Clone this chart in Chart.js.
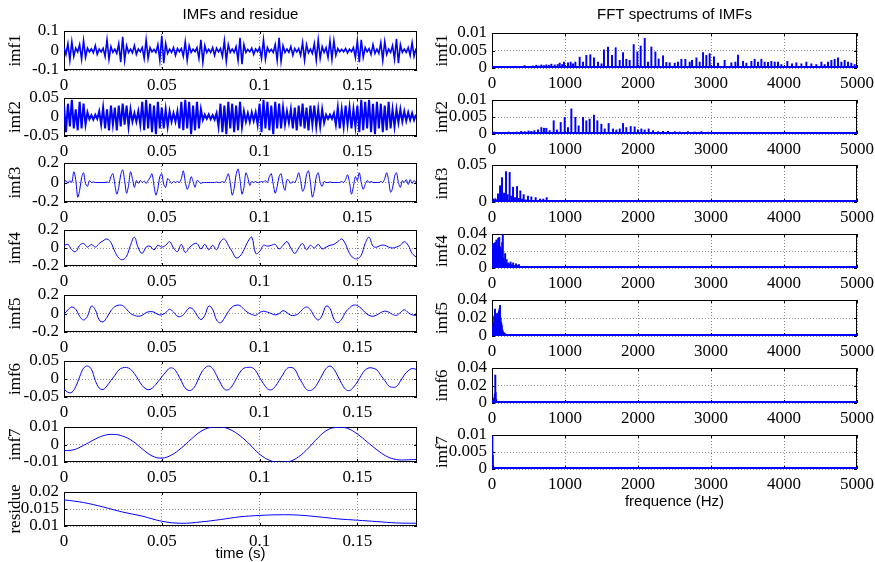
<!DOCTYPE html>
<html>
<head>
<meta charset="utf-8">
<script src="https://cdn.jsdelivr.net/npm/chart.js@4.4.1/dist/chart.umd.min.js"></script>
<style>
  html, body { margin: 0; padding: 0; background: #fff; overflow: hidden; }
  #page { position: relative; width: 875px; height: 562px; }
  #page canvas { position: absolute; }
</style>
</head>
<body>
<div id="page"></div>
<script>
// axis ticks
const timeTicks = [0, 0.05, 0.1, 0.15];
const timeMax = 0.1805;
const freqTicks = [0, 1000, 2000, 3000, 4000, 5000];

const imf1 = [
  0.015, -0.02, 0.035, -0.05, 0.045, -0.03, 0.012, -0.008, 0.03, -0.045,
  0.05, -0.035, 0.012, -0.007, 0.008, -0.012, 0.025, -0.02, 0.008, -0.007,
  0.012, -0.03, 0.055, -0.045, 0.02, -0.01, 0.007, -0.015, 0.035, -0.06,
  0.07, -0.05, 0.025, -0.01, 0.007, -0.012, 0.025, -0.02, 0.008, -0.006,
  0.015, -0.04, 0.055, -0.04, 0.015, -0.007, 0.006, -0.01, 0.03, -0.05,
  0.075, -0.065, 0.035, -0.015, 0.007, -0.01, 0.015, -0.025, 0.01, -0.006,
  0.01, -0.03, 0.045, -0.05, 0.025, -0.01, 0.007, -0.006, 0.015, -0.04,
  0.055, -0.06, 0.025, -0.01, 0.006, -0.01, 0.015, -0.025, 0.012, -0.007,
  0.01, -0.03, 0.05, -0.055, 0.03, -0.01, 0.007, -0.01, 0.02, -0.05,
  0.065, -0.07, 0.03, -0.01, 0.006, -0.007, 0.012, -0.02, 0.008, -0.006,
  0.015, -0.04, 0.055, -0.045, 0.015, -0.007, 0.006, -0.01, 0.03, -0.05,
  0.065, -0.055, 0.025, -0.01, 0.007, -0.01, 0.02, -0.025, 0.01, -0.007,
  0.01, -0.025, 0.04, -0.05, 0.03, -0.012, 0.007, -0.015, 0.035, -0.05,
  0.055, -0.04, 0.02, -0.01, 0.015, -0.035, 0.05, -0.045, 0.05, -0.025,
  0.01, -0.007, 0.006, -0.007, 0.01, -0.012, 0.007, -0.006, 0.015, -0.035,
  0.05, -0.06, 0.055, -0.035, 0.015, -0.007, 0.01, -0.02, 0.03, -0.015,
  0.007, -0.015, 0.04, -0.05, 0.045, -0.02, 0.007, -0.01, 0.025, -0.045,
  0.06, -0.065, 0.03, -0.01, 0.007, -0.01, 0.015, -0.025, 0.04, -0.03,
  0.01
];
const imf2 = [
  0.03, -0.04, 0.035, -0.025, 0.045, -0.03, 0.02, -0.035, 0.04, -0.03,
  0.035, -0.02, 0.012, -0.006, 0.005, -0.007, 0.006, -0.005, 0.015, -0.02,
  0.025, -0.03, 0.02, -0.035, 0.03, -0.02, 0.025, -0.035, 0.03, -0.025,
  0.035, -0.02, 0.03, -0.025, 0.02, -0.012, 0.01, -0.012, 0.015, -0.02,
  0.04, -0.035, 0.045, -0.03, 0.035, -0.04, 0.03, -0.045, 0.04, -0.03,
  0.025, -0.03, 0.02, -0.025, 0.015, -0.012, 0.01, -0.012, 0.015, -0.03,
  0.04, -0.035, 0.045, -0.03, 0.04, -0.045, 0.03, -0.035, 0.04, -0.03,
  0.02, -0.008, 0.006, -0.005, 0.007, -0.006, 0.005, -0.007, 0.01, -0.025,
  0.035, -0.04, 0.03, -0.045, 0.04, -0.03, 0.035, -0.04, 0.03, -0.035,
  0.04, -0.025, 0.015, -0.012, 0.01, -0.013, 0.012, -0.01, 0.012, -0.02,
  0.035, -0.04, 0.045, -0.03, 0.04, -0.035, 0.03, -0.045, 0.04, -0.03,
  0.035, -0.03, 0.025, -0.02, 0.015, -0.015, 0.02, -0.03, 0.025, -0.035,
  0.03, -0.025, 0.035, -0.03, 0.025, -0.035, 0.03, -0.02, 0.03, -0.025,
  0.02, -0.025, 0.02, -0.015, 0.006, -0.005, 0.006, -0.005, 0.01, -0.02,
  0.025, -0.03, 0.02, -0.025, 0.03, -0.02, 0.025, -0.03, 0.02, -0.025,
  0.03, -0.04, 0.045, -0.035, 0.04, -0.03, 0.045, -0.04, 0.035, -0.045,
  0.04, -0.03, 0.035, -0.04, 0.03, -0.035, 0.04, -0.03, 0.02, -0.025,
  0.02, -0.015, 0.02, -0.012, 0.015, -0.01, 0.012, -0.008, 0.01, -0.008,
  0.006
];
const imf3 = [
  0.0, 0.02, -0.01, 0.02, 0.0, 0.11, 0.03, -0.15, -0.08, 0.05,
  0.10, -0.01, -0.04, 0.02, 0.0, 0.005, 0.0, 0.0, 0.0, 0.0,
  0.0, 0.0, 0.005, 0.0, 0.06, 0.09, -0.02, -0.12, -0.05, 0.08,
  0.13, 0.02, -0.11, -0.03, 0.11, 0.04, -0.05, 0.02, -0.01, 0.02,
  0.0, 0.015, -0.01, 0.02, 0.05, 0.09, -0.03, -0.13, -0.06, 0.06,
  0.09, -0.02, -0.05, 0.04, 0.02, -0.01, 0.01, 0.0, 0.01, 0.0,
  0.04, 0.12, 0.01, -0.07, -0.02, 0.06, 0.01, -0.05, 0.02, 0.01,
  -0.01, 0.0, 0.0, 0.0, 0.0, 0.0, 0.0, 0.0, 0.005, 0.0,
  0.0, 0.01, 0.0, 0.04, 0.09, 0.0, -0.13, -0.06, 0.08, 0.14,
  0.03, -0.12, -0.05, 0.1, 0.05, -0.03, 0.01, 0.0, 0.01, 0.0,
  0.0, 0.01, 0.005, 0.02, 0.0, 0.06, 0.09, -0.02, -0.11, -0.04,
  0.06, 0.09, -0.02, -0.08, 0.03, 0.02, -0.01, 0.01, 0.0, 0.04,
  0.1, 0.02, -0.09, -0.05, 0.08, 0.12, 0.0, -0.15, -0.08, 0.06,
  0.1, 0.0, -0.04, 0.01, 0.0, 0.0, 0.005, 0.0, 0.0, 0.0,
  0.0, 0.0, 0.01, 0.0, 0.03, 0.08, 0.0, -0.12, -0.04, 0.06,
  0.02, 0.1, 0.0, -0.07, -0.02, 0.02, 0.0, 0.01, 0.0, 0.0,
  0.0, 0.0, 0.01, 0.0, 0.04, 0.1, 0.02, -0.1, -0.06, 0.06,
  0.1, 0.0, -0.05, 0.02, 0.0, 0.03, -0.02, 0.03, -0.01, 0.02,
  0.0
];
const imf4 = [
  0.026, 0.04, -0.02, -0.04, 0.03, 0.05, 0.01, 0.04, 0.01, 0.05,
  0.08, 0.10, 0.06, -0.04, -0.11, -0.13, -0.09, 0.03, 0.12, 0.0,
  -0.06, 0.01, 0.02, -0.02, 0.03, 0.01, 0.03, 0.07, 0.0, -0.04,
  0.04, -0.05, 0.0, 0.04, 0.05, -0.01, 0.04, -0.02, 0.03, -0.02,
  0.07, 0.10, 0.03, -0.04, -0.11, -0.09, -0.02, 0.07, 0.12, -0.06,
  -0.04, 0.03, 0.02, 0.03, 0.04, -0.01, 0.03, 0.07, 0.0, -0.06,
  0.0, 0.05, -0.02, 0.03, 0.0, 0.04, -0.01, 0.01, 0.03, 0.04,
  0.07, 0.10, 0.04, -0.06, -0.11, -0.12, -0.08, 0.05, 0.12, 0.02,
  0.01, 0.03, 0.03, 0.01, 0.0, 0.01, 0.03, 0.07, 0.03, -0.06,
  -0.10
];
const imf5 = [
  -0.01, 0.04, 0.07, 0.045, -0.03, -0.07, -0.03, 0.08, 0.04, -0.07,
  -0.09, -0.04, 0.03, 0.075, 0.09, 0.085, 0.045, 0.0, -0.02, -0.03,
  -0.02, 0.01, 0.02, 0.015, -0.01, -0.015, 0.01, 0.045, 0.015, -0.03,
  -0.03, 0.01, 0.06, 0.045, -0.02, -0.065, -0.02, 0.08, 0.045, -0.07,
  -0.1, -0.05, 0.02, 0.07, 0.09, 0.085, 0.045, 0.01, -0.01, -0.02,
  0.01, 0.025, 0.015, 0.0, -0.015, 0.0, 0.03, 0.01, -0.02, -0.02,
  0.0, 0.045, 0.07, 0.04, -0.03, -0.07, -0.02, 0.08, 0.055, -0.06,
  -0.1, -0.06, 0.015, 0.06, 0.09, 0.085, 0.055, 0.01, -0.02, -0.03,
  -0.015, 0.01, 0.025, 0.015, -0.01, -0.02, 0.01, 0.04, 0.01, -0.015,
  -0.02
];
const imf6 = [
  -0.028, -0.037, -0.037, -0.021, 0.006, 0.03, 0.036, 0.027, -0.004, -0.025,
  -0.029, -0.019, -0.004, 0.01, 0.025, 0.031, 0.032, 0.027, 0.015, -0.002,
  -0.018, -0.028, -0.029, -0.021, -0.008, 0.006, 0.019, 0.03, 0.029, 0.015,
  -0.006, -0.025, -0.032, -0.027, -0.009, 0.015, 0.03, 0.036, 0.029, 0.01,
  -0.011, -0.028, -0.03, -0.019, 0.0, 0.019, 0.03, 0.032, 0.032, 0.023,
  0.004, -0.013, -0.027, -0.03, -0.021, -0.004, 0.013, 0.029, 0.032, 0.027,
  0.006, -0.013, -0.029, -0.032, -0.025, -0.009, 0.011, 0.029, 0.036, 0.027,
  0.008, -0.013, -0.029, -0.032, -0.023, -0.008, 0.01, 0.025, 0.031, 0.03,
  0.025, 0.01, -0.004, -0.019, -0.023, -0.021, -0.006, 0.011, 0.023, 0.029,
  0.027
];
const imf7 = [
  -0.0035, -0.003, -0.0005, 0.0025, 0.005, 0.0058, 0.0048, 0.002, -0.0025, -0.0065,
  -0.0078, -0.006, -0.002, 0.003, 0.0075, 0.0098, 0.0101, 0.0085, 0.005, 0.0,
  -0.0055, -0.009, -0.0102, -0.0098, -0.007, -0.002, 0.004, 0.0085, 0.0098, 0.0092,
  0.006, 0.0015, -0.003, -0.0068, -0.0086, -0.0088, -0.0085
];
const residue = [
  0.0177, 0.0169, 0.0156, 0.0141, 0.0129, 0.0114, 0.0108, 0.0112, 0.0119, 0.0127,
  0.0131, 0.0133, 0.0132, 0.0127, 0.0121, 0.0117, 0.0113, 0.0109, 0.0108
];

// FFT spectra: peak frequency (Hz) and amplitude
const fft1Freq = [36, 100, 173, 250, 334, 400, 447, 516, 560, 607, 640, 676, 710, 744, 780, 813, 859, 900, 927, 960,
  986, 1041, 1078, 1110, 1142, 1201, 1247, 1292, 1347, 1397, 1452, 1500, 1534, 1589, 1644, 1694, 1749, 1795, 1840, 1886,
  1941, 1991, 2037, 2092, 2137, 2183, 2238, 2283, 2343, 2388, 2434, 2503, 2548, 2594, 2649, 2708, 2740, 2800, 2845, 2891,
  2936, 2982, 3041, 3096, 3187, 3279, 3334, 3370, 3439, 3484, 3553, 3598, 3644, 3690, 3735, 3781, 3827, 3873, 3918, 3964,
  4046, 4110, 4169, 4238, 4306, 4375, 4443, 4512, 4557, 4603, 4649, 4694, 4740, 4786, 4831, 4877, 4922, 4968];
const fft1Amp = [0.0005, 0.0003, 0.0004, 0.0003, 0.0005, 0.0004, 0.0007, 0.0005, 0.0006, 0.0008, 0.0006, 0.0009, 0.0007, 0.0009, 0.0008, 0.0011, 0.0009, 0.001, 0.0014, 0.001,
  0.0017, 0.0015, 0.0017, 0.0012, 0.0017, 0.0031, 0.0017, 0.0036, 0.0038, 0.0029, 0.0017, 0.0012, 0.0052, 0.006, 0.0036, 0.0058, 0.0022, 0.0044, 0.0025, 0.0022,
  0.0067, 0.0046, 0.0063, 0.0085, 0.0017, 0.006, 0.0046, 0.0026, 0.0035, 0.0016, 0.0015, 0.0014, 0.0017, 0.0025, 0.0025, 0.0017, 0.0022, 0.0029, 0.0017, 0.0044,
  0.0036, 0.0041, 0.0032, 0.0014, 0.0022, 0.0015, 0.0017, 0.0037, 0.0019, 0.0014, 0.0019, 0.0025, 0.0017, 0.0025, 0.0017, 0.0016, 0.0019, 0.0017, 0.0017, 0.001,
  0.0019, 0.0012, 0.0015, 0.0012, 0.0017, 0.0012, 0.001, 0.0017, 0.001, 0.0017, 0.0022, 0.0025, 0.0029, 0.0017, 0.0022, 0.0017, 0.0014, 0.001];
const fft2Freq = [30, 80, 130, 180, 230, 290, 340, 400, 450, 500, 539, 580, 630, 676, 712, 744, 790, 845, 890, 941,
  996, 1041, 1087, 1142, 1187, 1247, 1292, 1338, 1397, 1443, 1498, 1544, 1598, 1658, 1703, 1750, 1795, 1840, 1900, 1954,
  2000, 2046, 2092, 2146, 2206, 2274, 2343, 2411, 2503, 2571, 2685, 2777, 2868, 2959, 3142];
const fft2Amp = [0.0006, 0.0004, 0.0005, 0.0004, 0.0006, 0.0005, 0.0006, 0.0008, 0.0007, 0.0009, 0.0008, 0.001, 0.0012, 0.0019, 0.0017, 0.0017, 0.001, 0.0039, 0.0012, 0.0034,
  0.0049, 0.0019, 0.0074, 0.0049, 0.0024, 0.0049, 0.0039, 0.0044, 0.0056, 0.0039, 0.0029, 0.0015, 0.0031, 0.0015, 0.0012, 0.0015, 0.0031, 0.0019, 0.0022, 0.0021,
  0.0012, 0.0015, 0.0012, 0.0015, 0.001, 0.0007, 0.0008, 0.0008, 0.0007, 0.0006, 0.0007, 0.0006, 0.0007, 0.0006, 0.0005];
const fft3Freq = [20, 45, 60, 82, 110, 137, 165, 192, 215, 242, 265, 288, 315, 343, 365, 388, 410, 434, 460, 493, 539, 598, 658, 703, 749, 849];
const fft3Amp = [0.004, 0.0045, 0.003, 0.011, 0.022, 0.033, 0.012, 0.041, 0.01, 0.04, 0.008, 0.02, 0.006, 0.021, 0.005, 0.015, 0.004, 0.01, 0.003, 0.008, 0.007, 0.006, 0.004, 0.004, 0.006, 0.002];
const fft4Freq = [5, 12, 20, 28, 36, 44, 52, 60, 68, 76, 84, 92, 100, 108, 116, 124, 132, 140, 148, 156,
  164, 172, 180, 190, 200, 212, 225, 240, 255, 270, 290, 310, 330, 350, 370, 390, 420];
const fft4Amp = [0.012, 0.028, 0.022, 0.029, 0.018, 0.03, 0.024, 0.033, 0.02, 0.026, 0.035, 0.022, 0.036, 0.018, 0.025, 0.015, 0.02, 0.03, 0.04, 0.012,
  0.008, 0.006, 0.017, 0.005, 0.01, 0.004, 0.006, 0.005, 0.007, 0.004, 0.006, 0.003, 0.005, 0.003, 0.004, 0.002, 0.002];
const fft5Freq = [10, 20, 30, 41, 50, 60, 70, 80, 90, 96, 103, 110, 118, 126, 134, 142, 150, 160, 175, 190, 210];
const fft5Amp = [0.01, 0.015, 0.022, 0.03, 0.024, 0.02, 0.025, 0.022, 0.026, 0.028, 0.03, 0.034, 0.02, 0.015, 0.012, 0.007, 0.005, 0.004, 0.003, 0.002, 0.0015];
const fft6Freq = [10, 20, 30, 38, 45, 50, 58, 70];
const fft6Amp = [0.003, 0.004, 0.006, 0.01, 0.032, 0.012, 0.004, 0.002];
const fft7Freq = [5, 11, 16];
const fft7Amp = [0.0095, 0.004, 0.001];
const fftFloorFreq = [0, 5000];
const fftFloorAmp = [0, 0];

const leftNames = ['imf1', 'imf2', 'imf3', 'imf4', 'imf5', 'imf6', 'imf7', 'residue'];
const leftSeries = [imf1, imf2, imf3, imf4, imf5, imf6, imf7, residue];
const leftStep = [0.001, 0.001, 0.001, 0.002, 0.002, 0.002, 0.005, 0.01];
const leftYTicks = [[-0.1, 0, 0.1], [-0.05, 0, 0.05], [-0.2, 0, 0.2], [-0.2, 0, 0.2],
  [-0.2, 0, 0.2], [-0.05, 0, 0.05], [-0.01, 0, 0.01], [0.01, 0.015, 0.02]];

const rightNames = ['imf1', 'imf2', 'imf3', 'imf4', 'imf5', 'imf6', 'imf7'];
const rightFreq = [fft1Freq, fft2Freq, fft3Freq, fft4Freq, fft5Freq, fft6Freq, fft7Freq];
const rightAmp = [fft1Amp, fft2Amp, fft3Amp, fft4Amp, fft5Amp, fft6Amp, fft7Amp];
const rightYTicks = [[0, 0.005, 0.01], [0, 0.005, 0.01], [0, 0.05], [0, 0.02, 0.04],
  [0, 0.02, 0.04], [0, 0.02, 0.04], [0, 0.005, 0.01]];

// panel geometry (plot box top/bottom in page pixels)
const leftBoxes = [[31, 70], [98, 136], [163, 202], [230, 266], [295, 332], [361, 397], [427, 462], [492, 526]];
const rightBoxes = [[33, 68], [100, 134], [165, 202], [234, 268], [300, 336], [368, 403], [435, 469]];

const BLUE = '#0000ff';
const serif = { family: 'Liberation Serif', size: 17 };
const sans = { family: 'Liberation Sans', size: 15 };

// matlab-like axes box with inward ticks, drawn under the data
const boxPlugin = {
    id: 'box',
    beforeDatasetsDraw(chart) {
        const { ctx, chartArea: a, scales } = chart;
        ctx.save();
        ctx.strokeStyle = '#000';
        ctx.lineWidth = 1;
        ctx.beginPath();
        scales.x.ticks.forEach(t => {
            const px = Math.round(scales.x.getPixelForValue(t.value)) + 0.5;
            ctx.moveTo(px, a.top); ctx.lineTo(px, a.top + 3);
            ctx.moveTo(px, a.bottom); ctx.lineTo(px, a.bottom - 3);
        });
        scales.y.ticks.forEach(t => {
            const py = Math.round(scales.y.getPixelForValue(t.value)) + 0.5;
            ctx.moveTo(a.left, py); ctx.lineTo(a.left + 3, py);
            ctx.moveTo(a.right, py); ctx.lineTo(a.right - 3, py);
        });
        ctx.stroke();
        ctx.strokeRect(a.left + 0.5, a.top + 0.5, a.right - a.left - 1, a.bottom - a.top - 1);
        ctx.restore();
    }
};

const page = document.getElementById('page');

function makePanel(p) {
    const YW = 64;
    const padTop = p.title ? 0 : 18;
    const XH = p.xTitle ? p.xh : 28;
    const canvasTop = p.title ? 0 : p.top - padTop;
    const c = document.createElement('canvas');
    c.width = (p.x1 - p.x0) + YW + p.padRight;
    c.height = (p.bottom - canvasTop) + XH;
    c.style.left = (p.x0 - YW) + 'px';
    c.style.top = canvasTop + 'px';
    page.appendChild(c);

    const axisGrid = { color: '#8c8c8c', lineWidth: 1, drawTicks: false, offset: false };
    const axisBorder = { display: false, dash: [1, 2] };

    return new Chart(c, {
        type: p.type,
        data: { datasets: p.datasets },
        plugins: [boxPlugin],
        options: {
            responsive: false,
            animation: false,
            devicePixelRatio: 1,
            events: [],
            layout: { padding: { top: padTop, right: p.padRight, left: 0, bottom: 0 } },
            plugins: {
                legend: { display: false },
                tooltip: { enabled: false },
                title: p.title ? {
                    display: true, text: p.title, fullSize: false, color: '#000',
                    font: { ...sans, weight: 'normal' },
                    padding: { top: 6, bottom: p.top - 24 }
                } : { display: false }
            },
            scales: {
                x: {
                    type: 'linear', min: p.xMin, max: p.xMax, offset: false,
                    afterBuildTicks: s => { s.ticks = p.xTicks.map(v => ({ value: v })); },
                    afterFit: s => { s.height = XH; },
                    grid: axisGrid, border: axisBorder,
                    ticks: { autoSkip: false, maxRotation: 0, padding: 5, color: '#000', font: serif, callback: v => String(v) },
                    title: p.xTitle ? {
                        display: true, text: p.xTitle, color: '#000', font: sans,
                        padding: { top: 0, bottom: p.xTitlePad }
                    } : { display: false }
                },
                y: {
                    type: 'linear', min: p.yTicks[0], max: p.yTicks[p.yTicks.length - 1],
                    afterBuildTicks: s => { s.ticks = p.yTicks.map(v => ({ value: v })); },
                    afterFit: s => { s.width = YW; },
                    grid: axisGrid, border: axisBorder,
                    ticks: { autoSkip: false, padding: 5, color: '#000', font: serif, callback: v => String(v) },
                    title: { display: true, text: p.yLabel, color: '#000', font: serif, padding: { top: p.yTitlePad } }
                }
            }
        }
    });
}

// left column: IMFs and residue in time
leftSeries.forEach((series, i) => {
    const step = leftStep[i];
    makePanel({
        type: 'line',
        x0: 64, x1: 417, top: leftBoxes[i][0], bottom: leftBoxes[i][1], padRight: 6,
        xMin: 0, xMax: timeMax, xTicks: timeTicks, yTicks: leftYTicks[i],
        yLabel: leftNames[i], yTitlePad: 5,
        title: i === 0 ? 'IMFs and residue' : null,
        xTitle: i === leftSeries.length - 1 ? 'time (s)' : null, xh: 38, xTitlePad: 1,
        datasets: [{
            data: series.map((v, k) => ({ x: k * step, y: v })),
            borderColor: BLUE, borderWidth: i === 0 ? 1.6 : (i === 1 ? 2 : 1), pointRadius: 0,
            tension: step > 0.001 ? 0.4 : (i === 2 ? 0.3 : 0)
        }]
    });
});

// right column: FFT spectra
rightFreq.forEach((freq, i) => {
    makePanel({
        type: 'bar',
        x0: 492, x1: 857, top: rightBoxes[i][0], bottom: rightBoxes[i][1], padRight: 24,
        xMin: 0, xMax: 5000, xTicks: freqTicks, yTicks: rightYTicks[i],
        yLabel: rightNames[i], yTitlePad: 4,
        title: i === 0 ? 'FFT spectrums of IMFs' : null,
        xTitle: i === rightFreq.length - 1 ? 'frequence (Hz)' : null, xh: 44, xTitlePad: 2,
        datasets: [
            {
                type: 'bar',
                data: freq.map((f, k) => ({ x: f, y: rightAmp[i][k] })),
                backgroundColor: BLUE, borderWidth: 0, barThickness: 1.3, grouped: false
            },
            {
                type: 'line',
                data: fftFloorFreq.map((f, k) => ({ x: f, y: fftFloorAmp[k] })),
                borderColor: BLUE, borderWidth: 4, pointRadius: 0, clip: 0
            }
        ]
    });
});
</script>
</body>
</html>
